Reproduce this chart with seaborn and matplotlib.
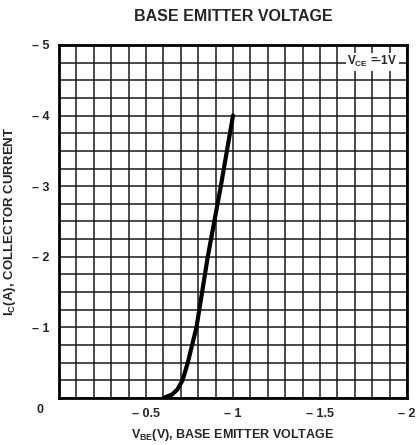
import matplotlib
matplotlib.use('Agg')
import matplotlib.pyplot as plt
import seaborn as sns
import numpy as np
import pandas as pd

# V_BE (V) vs I_C (A)
v_be = [-0.60, -0.65, -0.68, -0.71, -0.74, -0.79, -0.855, -0.93, -1.00]
i_c = [0.0, -0.05, -0.12, -0.25, -0.50, -1.00, -2.00, -3.00, -4.00]

x_ticks = [-0.5, -1, -1.5, -2]
x_labels = ["\u2013 0.5", "\u2013 1", "\u2013 1.5", "\u2013 2"]
y_ticks = [-1, -2, -3, -4, -5]
y_labels = ["\u2013 1", "\u2013 2", "\u2013 3", "\u2013 4", "\u2013 5"]

sns.set_style("white")
plt.rcParams['font.family'] = ['Liberation Sans', 'DejaVu Sans']
plt.rcParams['mathtext.default'] = 'regular'

df = pd.DataFrame({'vbe': v_be, 'ic': i_c})

fig = plt.figure(figsize=(4.17, 4.45), dpi=100)
ax = fig.add_axes([0.1415, 0.1056, 0.8345, 0.7934])

ax.set_xlim(0, -2)
ax.set_ylim(0, -5)

ax.set_xticks(np.arange(0, -2.01, -0.1), minor=True)
ax.set_yticks(np.arange(0, -5.01, -0.25), minor=True)
ax.set_xticks(x_ticks)
ax.set_xticklabels(x_labels, fontsize=9, fontweight='bold')
ax.set_yticks(y_ticks)
ax.set_yticklabels(y_labels, fontsize=9, fontweight='bold')
ax.tick_params(which='both', length=0, pad=7)
ax.grid(True, which='both', color='#1a1a1a', linewidth=1.1)
ax.set_axisbelow(True)

sns.lineplot(data=df, x='vbe', y='ic', ax=ax, color='black', linewidth=3,
             sort=False, zorder=5)

for s in ax.spines.values():
    s.set_linewidth(2)
    s.set_color('black')

ax.text(-0.055, -0.035, "0", transform=ax.transAxes, fontsize=9,
        fontweight='bold', ha='center', va='center')

ax.text(-1.8, -4.76, "V$_{CE}$ =-1V", fontsize=8.5, fontweight='bold',
        ha='center', va='center', zorder=6,
        bbox=dict(facecolor='white', edgecolor='none', pad=1.2))

ax.set_title("BASE EMITTER VOLTAGE", fontsize=11.5, fontweight='bold', pad=17)
ax.set_xlabel("V$_{BE}$(V), BASE EMITTER VOLTAGE", fontsize=9,
              fontweight='bold', labelpad=5)
ax.set_ylabel("I$_{C}$(A), COLLECTOR CURRENT", fontsize=9.5,
              fontweight='bold', labelpad=10)

plt.savefig("out.png", dpi=100)
plt.close()
